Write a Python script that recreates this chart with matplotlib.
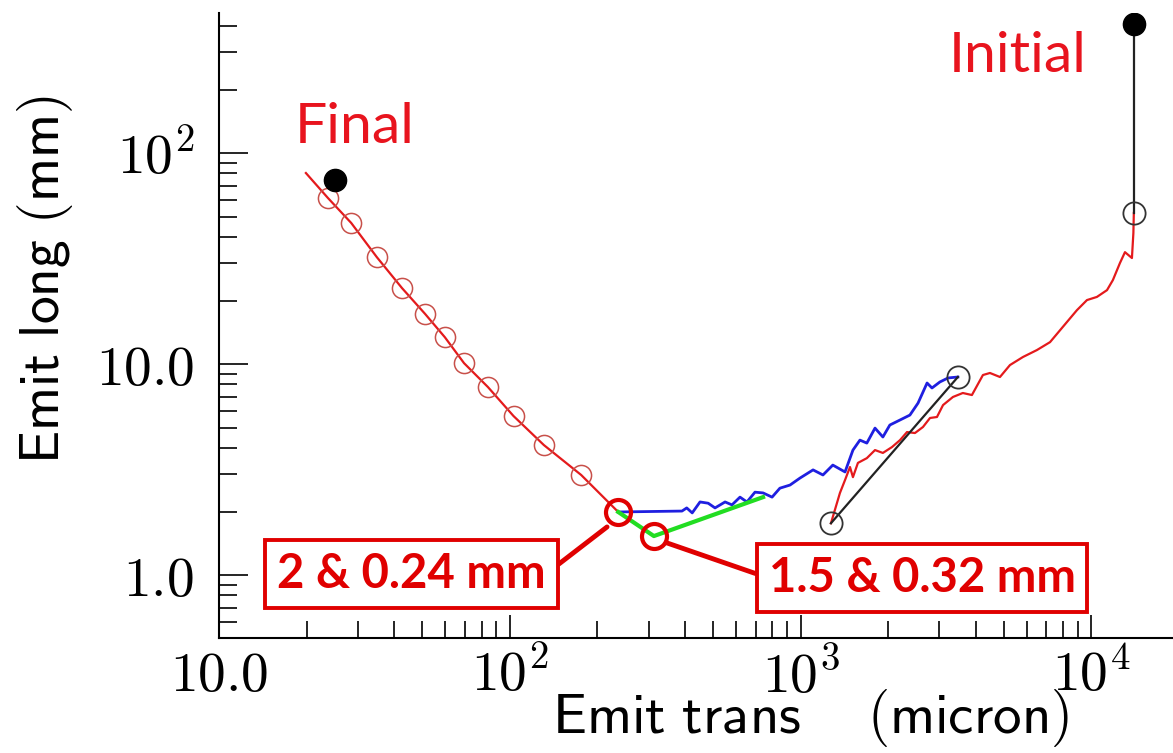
import numpy as np
import matplotlib
matplotlib.use('Agg')
import matplotlib.pyplot as plt

plt.rcParams['mathtext.fontset'] = 'cm'

# --- data ---
# final section: red line with small open circles
final_line_x = [19.9, 23.7, 28.5, 34.9, 42.6, 51.1, 59.8, 69.6, 84.1, 103, 131, 176, 236]
final_line_y = [80.4, 61.2, 46.6, 32.1, 22.9, 17.3, 13.4, 10.1, 7.78, 5.67, 4.13, 2.98, 1.99]
final_circ_x = [23.7, 28.5, 34.9, 42.6, 51.1, 59.8, 69.6, 84.1, 103, 131, 176]
final_circ_y = [61.2, 46.6, 32.1, 22.9, 17.3, 13.4, 10.1, 7.78, 5.67, 4.13, 2.98]

# the two highlighted points
pts_x = [236, 313]
pts_y = [1.99, 1.53]

# green path
green_x = [236, 313, 743]
green_y = [1.99, 1.53, 2.34]

# blue path
blue_x = [236, 391, 406, 424, 451, 481, 508, 550, 581, 619, 654, 697, 743, 798, 849, 920,
          995, 1104, 1194, 1291, 1422, 1514, 1600, 1690, 1803, 1919, 2028, 2198, 2377,
          2535, 2723, 2831, 3013, 3214, 3475]
blue_y = [1.99, 2.01, 2.08, 1.97, 2.22, 2.19, 2.08, 2.22, 2.15, 2.34, 2.22, 2.47, 2.45, 2.34,
          2.58, 2.67, 2.88, 3.15, 2.98, 3.32, 3.08, 3.91, 4.36, 4.22, 4.97, 4.51, 5.14,
          5.43, 5.73, 6.53, 8.13, 7.70, 8.22, 8.59, 8.68]

# red path from initial point
red_x = [1272, 1366, 1422, 1479, 1514, 1575, 1690, 1803, 1919, 2062, 2198, 2323, 2474, 2636,
         2787, 2945, 3090, 3342, 3614, 3884, 4238, 4480, 4850, 5250, 5820, 6500, 7210,
         7980, 8920, 9660, 10450, 11320, 11860, 12540, 13050, 13790, 13950, 14000]
red_y = [1.76, 2.45, 2.82, 3.25, 2.91, 3.40, 3.58, 3.91, 3.79, 4.04, 4.36, 4.76, 4.71, 5.03,
         5.55, 5.61, 6.39, 6.98, 7.29, 7.13, 8.87, 9.07, 8.68, 9.89, 10.8, 11.65, 12.7,
         15.0, 18.0, 20.1, 20.8, 22.4, 25.0, 30.1, 33.9, 31.8, 41.8, 52.0]

# black segments / markers
seg_x = [1272, 3475]
seg_y = [1.76, 8.68]
init_x = [14000, 14000]
init_y = [408, 52]
final_dot = (25.1, 74.5)

xticks = [10, 100, 1000, 10000]
xticklabels = [r'$10.0$', r'$10^{2}$', r'$10^{3}$', r'$10^{4}$']
yticks = [1, 10, 100]
yticklabels = [r'$1.0$', r'$10.0$', r'$10^{2}$']

# --- figure ---
W, H = 1173, 753
fig = plt.figure(figsize=(W / 100, H / 100), dpi=100)
ax = fig.add_axes([219 / W, 1 - 638 / H, (W - 219) / W, (638 - 13) / H])
ax.set_xscale('log')
ax.set_yscale('log')
ax.set_xlim(10, 19090)
ax.set_ylim(0.503, 461)

red = '#e41a1c'
ax.plot(final_line_x, final_line_y, color=red, lw=1.6, zorder=3)
ax.plot(final_circ_x, final_circ_y, 'o', ms=14.5, mfc='none', mec='#c8504a', mew=1.1, zorder=4)
ax.plot(blue_x, blue_y, color='#1f1fe0', lw=2, zorder=3)
ax.plot(green_x, green_y, color='#22dd22', lw=3, zorder=3)
ax.plot(pts_x, pts_y, 'o', ms=18, mfc='none', mec='#e00000', mew=3, zorder=5)
ax.plot(red_x, red_y, color=red, lw=1.6, zorder=3)
ax.plot(seg_x, seg_y, color='#222222', lw=1.6, zorder=4)
ax.plot(seg_x, seg_y, 'o', ms=16, mfc='none', mec='#333333', mew=1.3, zorder=5)
ax.plot(init_x, init_y, color='#222222', lw=1.6, zorder=4)
ax.plot(init_x[1], init_y[1], 'o', ms=16, mfc='none', mec='#333333', mew=1.3, zorder=5)
ax.plot(init_x[0], init_y[0], 'o', ms=16, color='black', zorder=5)
ax.plot(final_dot[0], final_dot[1], 'o', ms=16, color='black', zorder=5)

# labels in red
lab = dict(color='#e8141e', fontsize=41, family=['Lato', 'DejaVu Sans'])
ax.text(18.2, 111, 'Final', ha='left', va='baseline', **lab)
ax.text(5600, 242, 'Initial', ha='center', va='baseline', **lab)

box = dict(boxstyle='square,pad=0.25', fc='white', ec='#e00000', lw=2.8)
boxtxt = dict(color='#e00000', fontsize=34, fontweight='bold', family=['Lato', 'DejaVu Sans'],
              ha='center', va='center', zorder=6)
ax.annotate('2 & 0.24 mm', xy=(216, 1.69), xytext=(45.9, 1.01), bbox=box,
            arrowprops=dict(arrowstyle='-', color='#e00000', lw=3.5, relpos=(1, 0.5),
                            shrinkA=0, shrinkB=0), **boxtxt)
ax.annotate('1.5 & 0.32 mm', xy=(347, 1.42), xytext=(2616, 0.968), bbox=box,
            arrowprops=dict(arrowstyle='-', color='#e00000', lw=3.5, relpos=(0, 0.5),
                            shrinkA=0, shrinkB=0), **boxtxt)

# axes styling
for s in ['top', 'right']:
    ax.spines[s].set_visible(False)
for s in ['left', 'bottom']:
    ax.spines[s].set_linewidth(1.5)

ax.set_xticks(xticks)
ax.set_xticklabels(xticklabels)
ax.set_yticks(yticks)
ax.set_yticklabels(yticklabels)
ax.xaxis.set_minor_locator(matplotlib.ticker.LogLocator(base=10, subs=np.arange(2, 10)))
ax.yaxis.set_minor_locator(matplotlib.ticker.LogLocator(base=10, subs=np.arange(2, 10)))
ax.xaxis.set_minor_formatter(matplotlib.ticker.NullFormatter())
ax.yaxis.set_minor_formatter(matplotlib.ticker.NullFormatter())
ax.tick_params(axis='x', which='major', direction='in', length=16.5, width=1.2, labelsize=40, pad=8)
ax.tick_params(axis='x', which='minor', direction='in', length=12, width=1.2)
ax.tick_params(axis='y', which='major', direction='in', length=21, width=1.2, labelsize=40, pad=18)
ax.tick_params(axis='y', which='minor', direction='in', length=13, width=1.2)

fig.text(45 / W, 1 - 280 / H, r'$\mathsf{Emit\ long\ (mm)}$', rotation=90,
         ha='center', va='center', fontsize=40)
fig.text(811 / W, 1 - 718 / H, r'$\mathsf{Emit\ trans\quad\ (micron)}$',
         ha='center', va='center', fontsize=41)

fig.savefig('out.png', dpi=100)
